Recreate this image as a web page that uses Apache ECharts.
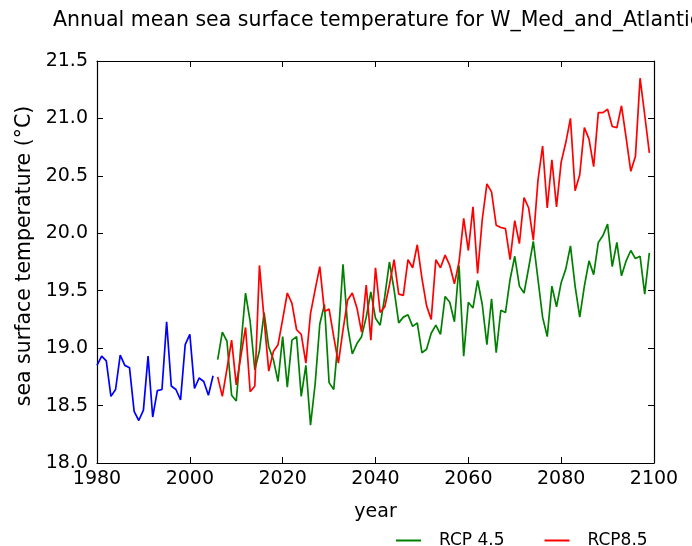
<!DOCTYPE html>
<html>
<head>
<meta charset="utf-8">
<script src="https://cdn.jsdelivr.net/npm/echarts@6/dist/echarts.min.js"></script>
<style>html,body{margin:0;padding:0;background:#fff}#c{width:692px;height:546px}</style>
</head>
<body>
<div id="c"></div>
<script>
const histStartYear = 1980;
const histValues = [18.85,18.93,18.89,18.58,18.64,18.94,18.85,18.83,18.45,18.37,18.46,18.93,18.40,18.63,18.64,19.23,18.67,18.64,18.55,19.03,19.12,18.65,18.74,18.71,18.59,18.76];
const scenStartYear = 2006;
const rcp45Values = [18.90,19.14,19.06,18.59,18.54,19.02,19.48,19.23,18.81,18.98,19.31,19.01,18.90,18.71,19.10,18.66,19.07,19.10,18.58,18.85,18.33,18.69,19.21,19.38,18.70,18.64,19.10,19.73,19.19,18.95,19.04,19.10,19.27,19.49,19.26,19.20,19.45,19.75,19.51,19.22,19.27,19.29,19.19,19.22,18.96,18.99,19.13,19.20,19.12,19.45,19.40,19.23,19.72,18.93,19.40,19.35,19.59,19.38,19.03,19.43,18.96,19.33,19.31,19.60,19.80,19.54,19.48,19.70,19.93,19.60,19.27,19.10,19.54,19.36,19.57,19.69,19.89,19.54,19.27,19.54,19.76,19.64,19.92,19.98,20.08,19.71,19.92,19.63,19.76,19.85,19.78,19.80,19.47,19.83];
const rcp85Values = [18.75,18.58,18.82,19.07,18.68,18.93,19.18,18.62,18.67,19.72,19.25,18.80,18.97,19.03,19.25,19.48,19.39,19.16,19.12,18.87,19.30,19.51,19.71,19.32,19.34,19.10,18.87,19.16,19.42,19.48,19.35,19.14,19.55,19.07,19.70,19.31,19.36,19.55,19.77,19.47,19.46,19.77,19.70,19.90,19.61,19.37,19.25,19.77,19.70,19.81,19.72,19.56,19.75,20.13,19.85,20.23,19.65,20.12,20.43,20.36,20.07,20.05,20.04,19.77,20.11,19.91,20.31,20.22,19.94,20.46,20.76,20.22,20.64,20.23,20.62,20.79,21.00,20.37,20.51,20.92,20.82,20.58,21.05,21.05,21.08,20.93,20.92,21.11,20.83,20.54,20.67,21.35,21.03,20.70];
const xTicks = [1980, 2000, 2020, 2040, 2060, 2080, 2100];
const yTicks = [18.0, 18.5, 19.0, 19.5, 20.0, 20.5, 21.0, 21.5];
const seriesNames = ['historical', 'RCP 4.5', 'RCP8.5'];
const titleText = 'Annual mean sea surface temperature for W_Med_and_Atlantic';

function pairs(start, vals) { return vals.map((v, i) => [start + i, v]); }

const FONT = 'DejaVu Sans';
const chart = echarts.init(document.getElementById('c'), null, {renderer: 'canvas'});
const axisLineStyle = {color: '#000', width: 1.2};
const tick = {show: true, inside: true, length: 6, lineStyle: {color: '#000', width: 1}};
chart.setOption({
  animation: false,
  backgroundColor: '#fff',
  title: {
    text: titleText, left: 372, textAlign: 'center', top: 5,
    textStyle: {fontFamily: FONT, fontSize: 20.5, fontWeight: 'normal', color: '#000'}
  },
  legend: {
    data: [
      {name: 'RCP 4.5', icon: 'rect'},
      {name: 'RCP8.5', icon: 'rect'}
    ],
    left: 391, top: 527, itemWidth: 25, itemHeight: 2, itemGap: 40,
    textStyle: {fontFamily: FONT, fontSize: 17, color: '#000', padding: [0, 0, 0, 13]}
  },
  grid: {left: 97, top: 61, right: 38, bottom: 83},
  xAxis: [{
    type: 'value', min: xTicks[0], max: xTicks[xTicks.length - 1], interval: 20,
    name: 'year', nameLocation: 'middle', nameGap: 40,
    nameTextStyle: {fontFamily: FONT, fontSize: 19, color: '#000'},
    axisLine: {show: true, lineStyle: axisLineStyle}, axisTick: tick,
    axisLabel: {fontFamily: FONT, fontSize: 19, color: '#000', margin: 7, formatter: v => String(v)},
    splitLine: {show: false}
  }, {
    type: 'value', position: 'top', min: xTicks[0], max: xTicks[xTicks.length - 1], interval: 20,
    axisLine: {show: true, lineStyle: axisLineStyle}, axisTick: tick,
    axisLabel: {show: false}, splitLine: {show: false}
  }],
  yAxis: [{
    type: 'value', min: yTicks[0], max: yTicks[yTicks.length - 1], interval: 0.5,
    name: 'sea surface temperature (\u00b0C)', nameLocation: 'middle', nameGap: 62,
    nameTextStyle: {fontFamily: FONT, fontSize: 20.5, color: '#000', padding: [0, 0, 0, 12]},
    axisLine: {show: true, lineStyle: axisLineStyle}, axisTick: tick,
    axisLabel: {fontFamily: FONT, fontSize: 19, color: '#000', margin: 9, formatter: v => v.toFixed(1)},
    splitLine: {show: false}
  }, {
    type: 'value', position: 'right', min: yTicks[0], max: yTicks[yTicks.length - 1], interval: 0.5,
    axisLine: {show: true, lineStyle: axisLineStyle}, axisTick: tick,
    axisLabel: {show: false}, splitLine: {show: false}
  }],
  series: [
    {name: seriesNames[0], type: 'line', data: pairs(histStartYear, histValues), showSymbol: false,
     lineStyle: {color: '#0000ff', width: 1.7}, itemStyle: {color: '#0000ff'}},
    {name: seriesNames[1], type: 'line', data: pairs(scenStartYear, rcp45Values), showSymbol: false,
     lineStyle: {color: '#008000', width: 1.7}, itemStyle: {color: '#008000'}},
    {name: seriesNames[2], type: 'line', data: pairs(scenStartYear, rcp85Values), showSymbol: false,
     lineStyle: {color: '#ff0000', width: 1.7}, itemStyle: {color: '#ff0000'}}
  ]
});
</script>
</body>
</html>
